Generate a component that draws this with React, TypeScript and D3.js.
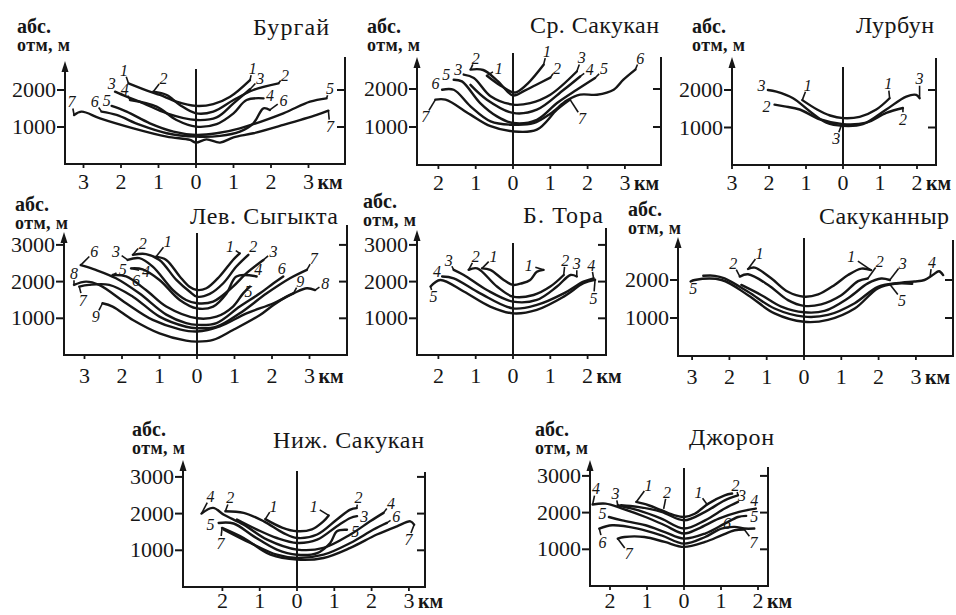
import React from 'react';
import * as d3 from 'd3';

type Pt = [number, number];
type Profile = { n: string; pts: Pt[]; l?: Pt; r?: Pt };
type Note = { n: string; at: Pt; to?: Pt };

// профили долин: [км от тальвега, абс. отметка м]
const burgai: Profile[] = [
  { n: '1', pts: [[-1.8, 2180], [-1.23, 1955], [-0.96, 1865], [-0.52, 1685], [0, 1570], [0.46, 1620], [0.91, 1820], [1.44, 2270]], l: [-1.92, 2540], r: [1.51, 2585] },
  { n: '2', pts: [[-1.14, 1955], [-0.78, 1865], [-0.43, 1595], [0, 1370], [0.46, 1415], [1.0, 1730], [1.53, 2000], [2.2, 2180]], l: [-0.87, 2315], r: [2.37, 2405] },
  { n: '3', pts: [[-2.16, 1955], [-1.85, 1820], [-1.4, 1640], [-0.78, 1370], [0, 1190], [0.55, 1260], [1.0, 1640], [1.44, 2020]], l: [-2.25, 2180], r: [1.71, 2315] },
  { n: '4', pts: [[-1.76, 1730], [-1.05, 1550], [-0.52, 1190], [0, 1010], [0.55, 1080], [1.0, 1370], [1.35, 1730], [1.8, 1775]], l: [-1.9, 2020], r: [1.97, 1865] },
  { n: '5', pts: [[-2.25, 1570], [-1.85, 1415], [-1.23, 1100], [-0.6, 875], [0, 785], [0.55, 830], [1.17, 965], [2.33, 1370], [3.04, 1685], [3.48, 1775]], l: [-2.38, 1730], r: [3.57, 2040] },
  { n: '6', pts: [[-2.52, 1415], [-2.12, 1325], [-1.49, 1055], [-0.78, 830], [0, 740], [0.64, 760], [1.17, 875], [1.53, 1100], [1.8, 1505], [1.97, 1460]], l: [-2.7, 1685], r: [2.33, 1730] },
  { n: '7', pts: [[-3.25, 1325], [-3.05, 1415], [-2.56, 1235], [-1.67, 965], [-0.78, 740], [-0.16, 650], [0, 578], [0.28, 665], [0.64, 578], [1.0, 720], [1.53, 830], [2.33, 1055], [3.22, 1325], [3.53, 1440]], l: [-3.32, 1685], r: [3.57, 1010] },
];

const srSakukan: Profile[] = [
  { n: '1', pts: [[-0.7, 2350], [-0.35, 2100], [0, 1910], [0.1, 1920], [0.4, 2150], [0.82, 2640]], l: [-0.38, 2550], r: [0.91, 2990] },
  { n: '2', pts: [[-1.14, 2510], [-0.8, 2500], [-0.4, 2200], [0, 1830], [0.3, 1950], [0.6, 2100], [1.0, 2300]], l: [-1.0, 2815], r: [1.18, 2550] },
  { n: '3', pts: [[-1.32, 2380], [-1.05, 2290], [-0.6, 1810], [0, 1590], [0.46, 1630], [1.0, 1850], [1.71, 2460]], l: [-1.47, 2510], r: [1.84, 2820] },
  { n: '4', pts: [[-1.14, 2110], [-0.7, 1720], [0, 1370], [0.64, 1455], [1.36, 1980], [1.8, 2330]], r: [2.06, 2520] },
  { n: '5', pts: [[-1.59, 2245], [-1.37, 2200], [-0.88, 1630], [-0.43, 1280], [0, 1105], [0.64, 1190], [1.18, 1630], [1.71, 1980], [2.2, 2290]], l: [-1.79, 2380], r: [2.44, 2530] },
  { n: '6', pts: [[-1.9, 1980], [-1.59, 1980], [-1.14, 1545], [-0.6, 1150], [0, 1060], [0.55, 1100], [1.0, 1350], [1.45, 1700], [1.8, 1850], [2.25, 1850], [2.7, 1980], [2.96, 2245], [3.28, 2510]], l: [-2.08, 2160], r: [3.41, 2815] },
  { n: '7', pts: [[-2.08, 1720], [-1.81, 1720], [-1.14, 1325], [-0.6, 1020], [0, 885], [0.64, 930], [1.18, 1455], [1.53, 1720]], l: [-2.35, 1280], r: [1.85, 1235] },
];

const lurbun: Profile[] = [
  { n: '1', pts: [[-1.1, 1730], [-0.7, 1480], [-0.35, 1320], [0, 1250], [0.45, 1285], [0.9, 1480], [1.26, 1780]], l: [-0.95, 2130], r: [1.22, 2170] },
  { n: '2', pts: [[-1.85, 1610], [-1.58, 1565], [-1.17, 1480], [-0.63, 1220], [0, 1090], [0.63, 1130], [1.17, 1390], [1.62, 1520]], l: [-2.07, 1565], r: [1.62, 1220] },
  { n: '3', pts: [[-2.03, 2000], [-1.8, 1955], [-1.35, 1780], [-0.9, 1435], [-0.45, 1130], [0, 1045], [0.54, 1090], [1.17, 1480], [1.71, 1825], [1.98, 1870], [2.07, 1780]], l: [-2.2, 2130], r: [2.07, 2300] },
];
const lurbunNotes: Note[] = [{ n: '3', at: [-0.18, 700], to: [-0.05, 1040] }];

const sygykta: Profile[] = [
  { n: '1', pts: [[-1.09, 2680], [-0.82, 2590], [-0.46, 2140], [-0.2, 1860], [0, 1770], [0.25, 1820], [0.6, 2140], [0.96, 2590], [1.14, 2770]], l: [-0.78, 3090], r: [0.88, 2950] },
  { n: '2', pts: [[-1.71, 2730], [-1.36, 2750], [-1.0, 2590], [-0.55, 2045], [-0.2, 1730], [0, 1590], [0.34, 1665], [0.7, 1955], [1.05, 2410], [1.37, 2730]], l: [-1.45, 3045], r: [1.5, 2950] },
  { n: '3', pts: [[-1.85, 2590], [-1.54, 2640], [-1.18, 2410], [-0.64, 1770], [-0.29, 1500], [0, 1410], [0.43, 1455], [0.96, 1865], [1.32, 2230], [1.77, 2590]], l: [-2.16, 2820], r: [2.04, 2820] },
  { n: '4', pts: [[-1.76, 2360], [-1.45, 2335], [-1.0, 2045], [-0.46, 1500], [0, 1270], [0.43, 1320], [0.79, 1680], [1.05, 2140], [1.59, 2140]], l: [-1.36, 2270], r: [1.63, 2320] },
  { n: '5', pts: [[-2.25, 2180], [-1.89, 2140], [-1.36, 1770], [-0.82, 1320], [0, 1000], [0.52, 1045], [0.96, 1320], [1.23, 1680], [1.41, 1865]], l: [-1.98, 2320], r: [1.37, 1730] },
  { n: '6', pts: [[-3.1, 2450], [-2.7, 2320], [-2.16, 2090], [-1.54, 1680], [-0.82, 1100], [-0.29, 870], [0, 820], [0.52, 870], [1.14, 1320], [1.68, 1680], [2.04, 1955], [2.3, 2140]], l: [-2.74, 2820], r: [2.26, 2360] },
  { n: '7', pts: [[-3.14, 1865], [-2.88, 1910], [-2.34, 1910], [-1.71, 1590], [-1.0, 1045], [-0.29, 770], [0, 730], [0.52, 770], [1.14, 1135], [1.86, 1680], [2.48, 2090], [2.93, 2320]], l: [-3.05, 1500], r: [3.11, 2640] },
  { n: '8', pts: [[-3.28, 1910], [-2.96, 2000], [-2.61, 1910], [-1.89, 1410], [-1.18, 955], [-0.46, 700], [0, 640], [0.61, 780], [1.32, 1135], [2.04, 1410], [2.57, 1680], [2.93, 1820], [3.15, 1770]], l: [-3.28, 2230], r: [3.42, 1955] },
  { n: '9', pts: [[-2.52, 1410], [-2.25, 1320], [-1.71, 955], [-1.0, 590], [-0.29, 390], [0, 365], [0.43, 410], [0.96, 680], [1.68, 1090], [2.04, 1365], [2.39, 1590], [2.57, 1680]], l: [-2.7, 1045], r: [2.75, 2000] },
];
const sygyktaNotes: Note[] = [{ n: '6', at: [-1.63, 2045] }];

const tora: Profile[] = [
  { n: '1', pts: [[-0.83, 2360], [-0.61, 2320], [-0.25, 2045], [0, 1910], [0.24, 1955], [0.46, 2045], [0.64, 2270], [0.82, 2320]], l: [-0.52, 2680], r: [0.42, 2450] },
  { n: '2', pts: [[-1.19, 2320], [-0.96, 2360], [-0.43, 1865], [0, 1590], [0.55, 1635], [1.0, 1865], [1.36, 2180]], l: [-1.0, 2680], r: [1.4, 2590] },
  { n: '3', pts: [[-1.59, 2320], [-1.32, 2180], [-0.7, 1770], [0, 1455], [0.64, 1500], [1.18, 1865], [1.54, 2180], [1.71, 2140]], l: [-1.72, 2590], r: [1.71, 2500] },
  { n: '4', pts: [[-1.9, 2140], [-1.59, 2090], [-0.88, 1680], [0, 1270], [0.64, 1365], [1.36, 1680], [1.89, 2000], [2.16, 2090]], l: [-2.04, 2270], r: [2.1, 2450] },
  { n: '5', pts: [[-2.21, 1865], [-1.95, 2045], [-1.32, 1730], [-0.61, 1320], [0, 1135], [0.64, 1230], [1.36, 1590], [1.89, 1955], [2.2, 2050]], l: [-2.13, 1590], r: [2.16, 1545] },
];

const sakukannyr: Profile[] = [
  { n: '1', pts: [[-1.5, 2290], [-1.32, 2325], [-0.88, 2045], [-0.43, 1690], [0, 1560], [0.38, 1620], [0.82, 1870], [1.18, 2130], [1.54, 2300], [1.8, 2260]], l: [-1.19, 2700], r: [1.27, 2610] },
  { n: '2', pts: [[-1.72, 2090], [-1.5, 2150], [-0.96, 1870], [-0.43, 1470], [0, 1320], [0.46, 1360], [1.0, 1600], [1.45, 1970], [1.71, 2040]], l: [-1.9, 2440], r: [2.03, 2480] },
  { n: '3', pts: [[-1.68, 1870], [-1.14, 1600], [-0.61, 1300], [0, 1150], [0.55, 1185], [1.18, 1520], [1.71, 1910], [2.07, 2040], [2.3, 2000]], r: [2.65, 2450] },
  { n: '4', pts: [[-2.7, 2110], [-2.39, 2110], [-2.13, 2040], [-1.5, 1690], [-0.79, 1250], [0, 1035], [0.64, 1080], [1.36, 1390], [1.98, 1820], [2.61, 1930], [2.96, 1960], [3.23, 2000], [3.45, 2130], [3.62, 2230], [3.73, 2130]] },
  { n: '5', pts: [[-3.04, 1960], [-2.93, 2000], [-2.21, 2000], [-1.5, 1600], [-0.79, 1120], [0, 900], [0.64, 950], [1.36, 1250], [1.98, 1780], [2.43, 1900], [2.9, 1900]], l: [-2.97, 1780] },
];
const sakukannyrNotes: Note[] = [
  { n: '4', at: [3.43, 2470], to: [3.38, 2080] },
  { n: '5', at: [2.63, 1470], to: [2.3, 1890] },
];

const nizhSakukan: Profile[] = [
  { n: '1', pts: [[-0.85, 1850], [-0.4, 1620], [0, 1520], [0.4, 1570], [0.7, 1780], [0.85, 1950]], l: [-0.63, 2200], r: [0.45, 2200] },
  { n: '2', pts: [[-1.92, 2065], [-1.43, 2020], [-0.89, 1790], [-0.36, 1470], [0, 1335], [0.54, 1430], [1.07, 1840], [1.43, 2110], [1.6, 2150]], l: [-1.79, 2430], r: [1.65, 2430] },
  { n: '3', pts: [[-1.61, 1840], [-1.07, 1565], [-0.54, 1335], [0, 1200], [0.54, 1290], [1.07, 1655], [1.43, 1880], [1.61, 1930]], r: [1.8, 1930] },
  { n: '4', pts: [[-2.56, 2000], [-2.25, 2155], [-1.96, 1970], [-1.43, 1700], [-0.8, 1290], [0, 1020], [0.71, 1065], [1.43, 1430], [1.96, 1790], [2.32, 2020]], l: [-2.32, 2470], r: [2.52, 2290] },
  { n: '5', pts: [[-2.1, 1745], [-1.7, 1730], [-1.16, 1380], [-0.54, 1020], [0, 880], [0.54, 925], [0.89, 1200], [1.07, 1520], [1.34, 1560]], l: [-2.32, 1700], r: [1.56, 1520] },
  { n: '6', pts: [[-1.96, 1565], [-1.25, 1200], [-0.54, 880], [0, 790], [0.71, 880], [1.43, 1200], [2.05, 1565], [2.41, 1745]], r: [2.66, 1930] },
  { n: '7', pts: [[-2.01, 1610], [-1.43, 1335], [-0.71, 880], [0, 745], [0.71, 790], [1.43, 1065], [2.14, 1430], [2.68, 1655], [3.04, 1790], [3.14, 1700]], l: [-2.05, 1200], r: [2.99, 1290] },
];

const djoron: Profile[] = [
  { n: '1', pts: [[-1.29, 2290], [-0.96, 2200], [-0.61, 2065], [-0.25, 1925], [0, 1880], [0.29, 1970], [0.66, 2245], [1.1, 2470], [1.3, 2520]], l: [-0.96, 2745] },
  { n: '2', pts: [[-1.7, 2200], [-1.25, 2155], [-0.61, 2020], [0, 1790], [0.57, 2020], [1.1, 2335], [1.46, 2470]], r: [1.39, 2745] },
  { n: '3', pts: [[-1.79, 2200], [-1.25, 2065], [-0.61, 1835], [0, 1565], [0.57, 1790], [1.1, 2110], [1.46, 2290]], l: [-1.85, 2520], r: [1.57, 2470] },
  { n: '4', pts: [[-2.47, 2220], [-2.12, 2245], [-1.67, 2110], [-1.04, 1880], [-0.52, 1655], [0, 1430], [0.39, 1565], [0.94, 1835], [1.49, 2020], [1.94, 2110]], l: [-2.38, 2650], r: [1.9, 2330] },
  { n: '5', pts: [[-2.03, 1880], [-1.67, 1790], [-1.04, 1655], [-0.52, 1470], [0, 1290], [0.57, 1430], [1.1, 1700], [1.46, 1880], [1.68, 1910]], l: [-2.2, 1970], r: [1.9, 1900] },
  { n: '6', pts: [[-2.29, 1565], [-1.94, 1655], [-1.25, 1565], [-0.61, 1380], [0, 1155], [0.57, 1335], [1.01, 1565], [1.37, 1610], [1.63, 1565], [1.9, 1565]], l: [-2.2, 1200] },
  { n: '7', pts: [[-1.79, 1290], [-1.61, 1335], [-1.07, 1335], [-0.52, 1200], [0, 1065], [0.57, 1200], [1.01, 1380], [1.37, 1520], [1.63, 1540]], l: [-1.49, 880], r: [1.88, 1200] },
];
const djoronNotes: Note[] = [
  { n: '1', at: [0.39, 2545], to: [0.62, 2230] },
  { n: '2', at: [-0.46, 2560], to: [-0.55, 2100] },
  { n: '6', at: [1.16, 1700], to: [1.35, 1600] },
];

const hTicks2 = [1000, 2000];
const hTicks3 = [1000, 2000, 3000];
const km3to3 = [-3, -2, -1, 0, 1, 2, 3];
const km2to3 = [-2, -1, 0, 1, 2, 3];
const km3to2 = [-3, -2, -1, 0, 1, 2];
const km2to2 = [-2, -1, 0, 1, 2];

const panels = [
  { title: 'Бургай', data: burgai, notes: [] as Note[], yt: hTicks2, xt: km3to3, ax: 65, rx: 345, zero: 196, k: 37.5, bottom: 164, m: 37, xlY: 25, arrowTop: 61, rTop: 57, cTop: 69, titleX: 329, titleY: 35, titleW: 76, absX: 17, absY: 33, otmY: 51, titleAnchor: 'end' },
  { title: 'Ср. Сакукан', data: srSakukan, notes: [] as Note[], yt: hTicks2, xt: km2to3, ax: 417, rx: 661, zero: 513, k: 37.3, bottom: 165, m: 38, xlY: 25, arrowTop: 57, rTop: 57, cTop: 53, titleX: 659, titleY: 33, titleW: 129, absX: 367, absY: 33, otmY: 51, titleAnchor: 'end' },
  { title: 'Лурбун', data: lurbun, notes: lurbunNotes, yt: hTicks2, xt: km3to2, ax: 732, rx: 936, zero: 843, k: 37, bottom: 165, m: 37.5, xlY: 25, arrowTop: 57, rTop: 58, cTop: 67, titleX: 934, titleY: 33, titleW: 78, absX: 692, absY: 33, otmY: 51, titleAnchor: 'end' },
  { title: 'Лев. Сыгыкта', data: sygykta, notes: sygyktaNotes, yt: hTicks3, xt: km3to3, ax: 64, rx: 347, zero: 197, k: 37.5, bottom: 355, m: 36.7, xlY: 28, arrowTop: 232, rTop: 225, cTop: 233, titleX: 190, titleY: 224, titleW: 148, absX: 15, absY: 211, otmY: 229, titleAnchor: 'start' },
  { title: 'Б. Тора', data: tora, notes: [] as Note[], yt: hTicks3, xt: km2to2, ax: 417, rx: 606, zero: 513, k: 37.3, bottom: 355, m: 36.7, xlY: 28, arrowTop: 230, rTop: 228, cTop: 243, titleX: 603, titleY: 223, titleW: 80, absX: 363, absY: 208, otmY: 226, titleAnchor: 'end' },
  { title: 'Сакуканныр', data: sakukannyr, notes: sakukannyrNotes, yt: hTicks2, xt: km3to3, ax: 678, rx: 953, zero: 804, k: 37.3, bottom: 356, m: 38, xlY: 28, arrowTop: 237, rTop: 240, cTop: 238, titleX: 949, titleY: 224, titleW: 130, absX: 628, absY: 216, otmY: 234, titleAnchor: 'end' },
  { title: 'Ниж. Сакукан', data: nizhSakukan, notes: [] as Note[], yt: hTicks3, xt: km2to3, ax: 183, rx: 425, zero: 297, k: 37.3, bottom: 587, m: 36.7, xlY: 21, arrowTop: 460, rTop: 472, cTop: 471, titleX: 424, titleY: 448, titleW: 151, absX: 132, absY: 436, otmY: 454, titleAnchor: 'end' },
  { title: 'Джорон', data: djoron, notes: djoronNotes, yt: hTicks3, xt: km2to2, ax: 590, rx: 768, zero: 684, k: 37, bottom: 586, m: 36.7, xlY: 22, arrowTop: 460, rTop: 467, cTop: 468, titleX: 774, titleY: 445, titleW: 85, absX: 535, absY: 436, otmY: 454, titleAnchor: 'end' },
];

const INK = '#161616';
const serif: React.CSSProperties = { fontFamily: '"Liberation Serif"' };

function Panel({ p }: { p: typeof panels[number] }) {
  const x = d3.scaleLinear().domain([0, 1]).range([p.zero, p.zero + p.k]);
  const y = d3.scaleLinear().domain([0, 1000]).range([p.bottom, p.bottom - p.m]);
  const line = d3.line<Pt>().x(d => x(d[0])).y(d => y(d[1])).curve(d3.curveCatmullRom.alpha(0.5));

  // короткий штрих от конца профиля к подписи
  const lead = (from: Pt, to: Pt, key: string) => {
    const fx = x(from[0]), fy = y(from[1]), tx = x(to[0]), ty = y(to[1]);
    const d = Math.hypot(tx - fx, ty - fy);
    if (d < 10) return null;
    const len = Math.min(d - 7, 16);
    return <line key={key} x1={fx} y1={fy} x2={fx + (tx - fx) / d * len} y2={fy + (ty - fy) / d * len} stroke={INK} strokeWidth={1.6} />;
  };
  const num = (n: string, at: Pt) => (
    <text x={x(at[0])} y={y(at[1])} dy="0.35em" textAnchor="middle" fontSize={16} fontStyle="italic" style={serif} fill={INK}>{n}</text>
  );
  const lastKm = p.xt[p.xt.length - 1];

  return (
    <g>
      {/* оси */}
      <line x1={p.ax} y1={p.bottom} x2={p.ax} y2={p.arrowTop + 8} stroke={INK} strokeWidth={2} />
      <path d={`M${p.ax},${p.arrowTop} L${p.ax - 3.5},${p.arrowTop + 11} L${p.ax + 3.5},${p.arrowTop + 11} Z`} fill={INK} />
      <line x1={p.ax - 1} y1={p.bottom} x2={p.rx + 1} y2={p.bottom} stroke={INK} strokeWidth={2} />
      <line x1={p.rx} y1={p.bottom} x2={p.rx} y2={p.rTop} stroke={INK} strokeWidth={2} />
      <line x1={x(0)} y1={p.bottom} x2={x(0)} y2={p.cTop} stroke={INK} strokeWidth={2} />
      {p.yt.map(t => (
        <g key={'y' + t}>
          <line x1={p.ax - 8} x2={p.ax} y1={y(t)} y2={y(t)} stroke={INK} strokeWidth={2} />
          <line x1={p.rx - 8} x2={p.rx} y1={y(t)} y2={y(t)} stroke={INK} strokeWidth={2} />
          <text x={p.ax - 9} y={y(t) + 7} textAnchor="end" fontSize={22} style={serif} fill={INK}>{t}</text>
        </g>
      ))}
      {p.xt.map(t => (
        <g key={'x' + t}>
          <line x1={x(t)} x2={x(t)} y1={p.bottom} y2={p.bottom + 4} stroke={INK} strokeWidth={1.8} />
          <text x={x(t)} y={p.bottom + p.xlY} textAnchor="middle" fontSize={22} style={serif} fill={INK}>{Math.abs(t)}</text>
        </g>
      ))}
      <text x={x(lastKm) + 9} y={p.bottom + p.xlY} fontSize={20} fontWeight="bold" style={serif} fill={INK}>км</text>
      <text x={p.absX} y={p.absY} fontSize={20} fontWeight="bold" style={serif} fill={INK}>абс.</text>
      <text x={p.absX} y={p.otmY} fontSize={18} fontWeight="bold" style={serif} fill={INK} letterSpacing={0.4}>отм, м</text>
      <text x={p.titleX} y={p.titleY} textAnchor={p.titleAnchor as any} fontSize={24} textLength={p.titleW} style={serif} fill={INK}>{p.title}</text>

      {/* профили */}
      {p.data.map(pr => {
        const a = pr.pts[0], b = pr.pts[pr.pts.length - 1];
        return (
          <g key={'p' + pr.n}>
            <path d={line(pr.pts) || ''} fill="none" stroke={INK} strokeWidth={2.4} strokeLinejoin="round" strokeLinecap="round" />
            {pr.l && lead(a, pr.l, 'la')}
            {pr.r && lead(b, pr.r, 'lb')}
            {pr.l && num(pr.n, pr.l)}
            {pr.r && num(pr.n, pr.r)}
          </g>
        );
      })}
      {p.notes.map((nt, i) => (
        <g key={'n' + i}>
          {nt.to && lead(nt.to, nt.at, 'nl')}
          {num(nt.n, nt.at)}
        </g>
      ))}
    </g>
  );
}

export default function App() {
  return (
    <svg width={956} height={615} style={{ position: 'absolute', left: 0, top: 0, background: '#fff', fontFamily: '"Liberation Serif"' }}>
      <style>{'text { font-family: "Liberation Serif", serif; }'}</style>
      <rect width={956} height={615} fill="#fff" />
      {panels.map(p => <Panel key={p.title} p={p} />)}
    </svg>
  );
}
